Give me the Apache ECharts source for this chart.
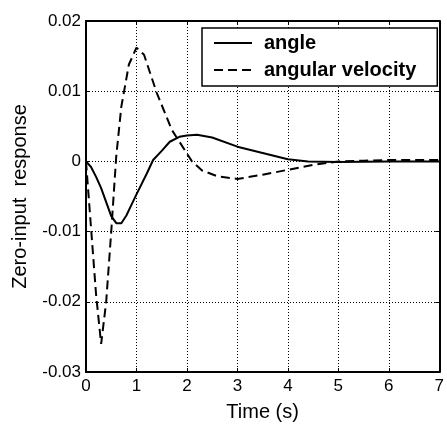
<!DOCTYPE html>
<html><head><meta charset="utf-8">
<script src="https://cdn.jsdelivr.net/npm/echarts@6/dist/echarts.min.js"></script>
<style>html,body{margin:0;padding:0;background:#fff}#c{width:447px;height:427px}</style>
</head><body><div id="c"></div>
<script>
const seriesNames = ['angle', 'angular velocity'];
const angleT = [0, 0.1, 0.2, 0.3, 0.4, 0.5, 0.6, 0.7, 0.8, 0.9, 1.0, 1.2, 1.33, 1.5, 1.66, 1.85, 2.0, 2.2, 2.5, 3.0, 3.5, 4.0, 4.4, 5.0, 6.0, 7.0];
const angleY = [0, -0.0008, -0.0022, -0.0038, -0.0058, -0.0078, -0.0088, -0.0088, -0.0077, -0.0062, -0.0047, -0.0018, 0.0002, 0.0015, 0.0028, 0.0035, 0.0037, 0.0038, 0.0034, 0.0021, 0.0012, 0.0003, 0.0, -0.0001, 0.0, 0.0];
const velT = [0, 0.1, 0.2, 0.3, 0.4, 0.5, 0.6, 0.7, 0.85, 1.0, 1.15, 1.4, 1.7, 2.1, 2.3, 2.6, 3.0, 3.5, 4.0, 4.5, 5.0, 5.5, 6.0, 7.0];
const velY = [0, -0.0095, -0.019, -0.026, -0.020, -0.010, 0.0008, 0.0078, 0.0138, 0.0162, 0.0152, 0.0098, 0.0045, 0.0, -0.0013, -0.0021, -0.0025, -0.0019, -0.0012, -0.0005, 0.0, 0.0001, 0.0002, 0.0002];
const xTicks = [0, 1, 2, 3, 4, 5, 6, 7];
const yTicks = [-0.03, -0.02, -0.01, 0, 0.01, 0.02];

const font = 'Liberation Sans';
const chart = echarts.init(document.getElementById('c'));
const axisLine = {show: true, onZero: false, lineStyle: {color: '#000', width: 2}};
const split = {show: true, lineStyle: {color: '#000', type: [1, 2], width: 1}};
const tick = {show: true, inside: true, length: 4, lineStyle: {color: '#000'}};
chart.setOption({
  animation: false,
  backgroundColor: '#fff',
  grid: {left: 86, right: 6, top: 21, bottom: 50},
  legend: {
    data: seriesNames,
    orient: 'vertical', left: 202, top: 28,
    padding: [5, 21, 6, 11], itemGap: 7,
    itemWidth: 38, itemHeight: 14,
    borderColor: '#000', borderWidth: 1.5, backgroundColor: '#fff',
    itemStyle: {color: 'transparent', borderWidth: 0, opacity: 0},
    textStyle: {fontFamily: font, fontSize: 20, fontWeight: 'bold', color: '#000', padding: [0, 0, 0, 7]}
  },
  xAxis: [{
    type: 'value', min: 0, max: 7, interval: 1,
    name: 'Time (s)', nameLocation: 'middle', nameGap: 30,
    nameTextStyle: {fontFamily: font, fontSize: 20, color: '#000'},
    axisLine: axisLine, axisTick: tick,
    axisLabel: {fontFamily: font, fontSize: 17, color: '#000', margin: 6, formatter: v => xTicks.includes(v) ? String(v) : ''},
    splitLine: split
  }, {
    type: 'value', position: 'top', min: 0, max: 7, interval: 1,
    axisLine: axisLine, axisTick: tick,
    axisLabel: {show: false}, splitLine: {show: false}
  }],
  yAxis: [{
    type: 'value', min: -0.03, max: 0.02, interval: 0.01,
    name: 'Zero-input  response', nameLocation: 'middle', nameGap: 56,
    nameTextStyle: {fontFamily: font, fontSize: 20, color: '#000'},
    axisLine: axisLine, axisTick: tick,
    axisLabel: {fontFamily: font, fontSize: 17, color: '#000', margin: 5,
      formatter: v => { const r = Math.round(v * 100) / 100; return r === 0 ? '0' : String(r); }},
    splitLine: split
  }, {
    type: 'value', position: 'right', min: -0.03, max: 0.02, interval: 0.01,
    axisLine: axisLine, axisTick: tick,
    axisLabel: {show: false}, splitLine: {show: false}
  }],
  series: [{
    name: seriesNames[0], type: 'line', symbol: 'none', smooth: false,
    data: angleT.map((t, i) => [t, angleY[i]]),
    lineStyle: {color: '#000', width: 2, type: 'solid'},
    itemStyle: {color: '#000'}
  }, {
    name: seriesNames[1], type: 'line', symbol: 'none', smooth: false,
    data: velT.map((t, i) => [t, velY[i]]),
    lineStyle: {color: '#000', width: 2, type: [9, 5]},
    itemStyle: {color: '#000'}
  }]
});
</script></body></html>
